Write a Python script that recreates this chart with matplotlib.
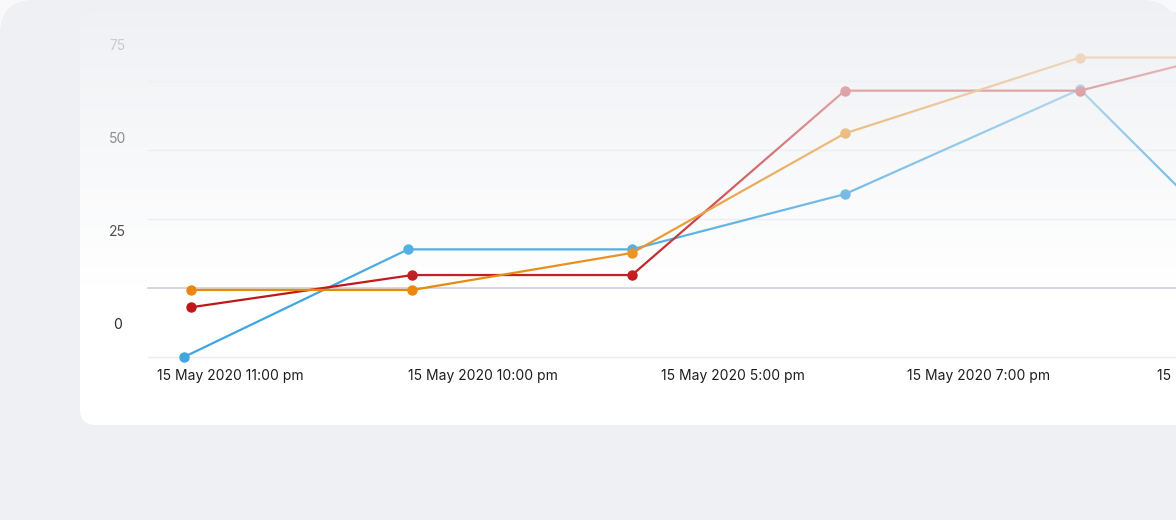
import numpy as np
import matplotlib
matplotlib.use('Agg')
import matplotlib.pyplot as plt
from matplotlib.patches import FancyBboxPatch

plt.rcParams['font.family'] = ['Inter', 'DejaVu Sans']

# data (x in hours from the first sample, y in chart units)
x_blue = [0.0, 1.0, 2.0, 2.95, 4.0, 5.0]
y_blue = [-25, 14, 14, 34, 72, -9]
x_red = [0.03, 1.02, 2.0, 2.95, 4.0, 5.0]
y_red = [-7, 4.7, 4.7, 71.5, 71.5, 92]
x_orange = [0.03, 1.02, 2.0, 2.95, 4.0, 5.0]
y_orange = [-0.7, -0.7, 12.7, 56, 83.5, 83.5]
grid_values = [-25, 0, 25, 50, 75]
y_tick_labels = ['75', '50', '25', '0']
x_tick_labels = ['15 May 2020 11:00 pm', '15 May 2020 10:00 pm', '15 May 2020 5:00 pm',
                 '15 May 2020 7:00 pm', '15 May 2020 8:00 pm']

W, H = 1176, 520
fig = plt.figure(figsize=(W/100, H/100), dpi=100, facecolor='#f9f9fb')

def fx(px):
    return px/W

def fy(py):
    return 1-py/H

# panel and card
fig.patches.append(FancyBboxPatch((0, -1), 11.76, 6.2, boxstyle='round,pad=0,rounding_size=0.34',
                                  transform=fig.dpi_scale_trans, facecolor='#eff0f4', edgecolor='none', zorder=-5))
fig.patches.append(FancyBboxPatch((0.80, 0.95), 12.0, 4.13, boxstyle='round,pad=0,rounding_size=0.16',
                                  transform=fig.dpi_scale_trans, facecolor='white', edgecolor='none', zorder=-4))

ax = fig.add_axes([fx(80), fy(425), fx(1096), 413/H])
ax.set_facecolor('none')
ax.axis('off')
ax.set_xlim((80-184)/224, (1176-184)/224)
ax.set_ylim((288-425)/69*25, (288-12)/69*25)
ax.set_zorder(1)

gx0 = (148-80)/1096
for g in grid_values:
    if g == 0:
        ax.axhline(g, xmin=gx0, xmax=1, color='#cfd0de', lw=1.2, zorder=1)
    else:
        ax.axhline(g, xmin=gx0, xmax=1, color='#ecedf1', lw=1.0, zorder=1)

series = [(x_blue, y_blue, '#3fa6e0'), (x_red, y_red, '#c0171b'), (x_orange, y_orange, '#e8890d')]
for xs, ys, c in series:
    ax.plot(xs, ys, color=c, lw=1.6, marker='o', markersize=6.5, zorder=3)

for lab, py in zip(y_tick_labels, [46, 139, 232, 325]):
    ax.text(fx(117.5), fy(py), lab, transform=fig.transFigure, ha='center', va='center',
            fontsize=10, color='#2a2a2e', zorder=2)
for lab, px in zip(x_tick_labels, [230, 483, 733, 979, 1229]):
    ax.text(fx(px), fy(376), lab, transform=fig.transFigure, ha='center', va='center',
            fontsize=10, color='#1e1e22', zorder=2, clip_on=False)

# fading overlay over the top part of the card
ov = fig.add_axes([fx(80), fy(288), fx(1096), 276/H])
ov.axis('off')
ov.set_zorder(5)
rows = np.arange(12, 288)
alpha = np.clip((287-rows)*0.00335, 0, 1)
img = np.zeros((len(rows), 4, 4))
img[:, :, :3] = np.array([0xef, 0xf0, 0xf4])/255
img[:, :, 3] = alpha[:, None]
ov.imshow(img, aspect='auto', extent=[0, 1, 0, 1], interpolation='nearest')
ov.set_xlim(0, 1)
ov.set_ylim(0, 1)

fig.savefig('out.png', dpi=100, facecolor=fig.get_facecolor())
